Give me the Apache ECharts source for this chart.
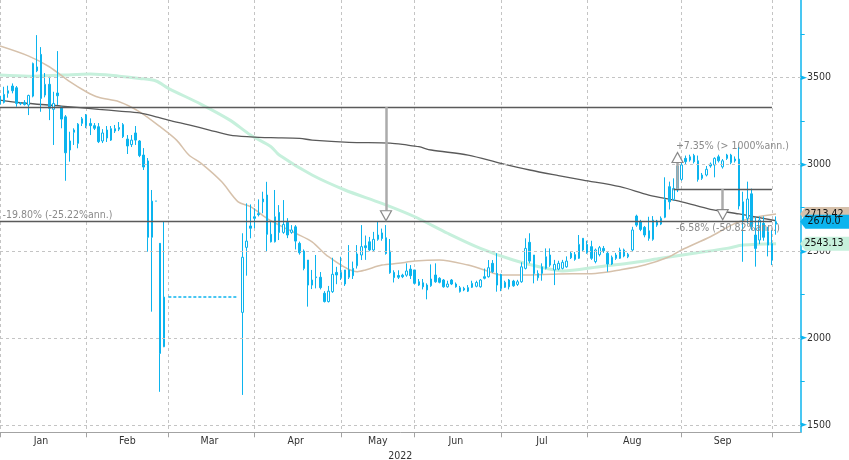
<!DOCTYPE html>
<html><head><meta charset="utf-8">
<script src="https://cdn.jsdelivr.net/npm/echarts@6/dist/echarts.min.js"></script>
<style>html,body{margin:0;padding:0;background:#fff}#c{width:849px;height:460px}</style>
</head><body><div id="c"></div>
<script>
// ---------- data ----------
const SLOT_COUNT = 196; // trading-day slots on the x axis
const monthStartSlots = [0, 21, 41, 62, 83, 101, 122, 143, 166, 188];
const monthNames = ['Jan', 'Feb', 'Mar', 'Apr', 'May', 'Jun', 'Jul', 'Aug', 'Sep'];
const monthLabelSlots = [10, 31, 51, 72, 92, 111, 132, 154, 176];
const yearLabel = '2022';
const yMin = 1458, yMax = 3945;
const yLabelValues = [1500, 2000, 2500, 3000, 3500];
const yMinorTickValues = [1750, 2250, 2750, 3250, 3750];

// [slot, open, close, low, high]
const ohlc = [
[0,3392,3346,3335,3404],[1,3356,3402,3350,3446],[2,3408,3423,3383,3452],[3,3450,3423,3408,3465],
[4,3440,3350,3331,3450],[5,3352,3348,3340,3358],[6,3356,3344,3338,3369],[7,3341,3396,3283,3400],
[8,3392,3580,3385,3585],[9,3560,3538,3530,3743],[10,3632,3379,3302,3674],[11,3398,3460,3385,3525],
[12,3460,3322,3254,3503],[13,3316,3350,3111,3417],[14,3410,3394,3341,3651],[15,3325,3260,3207,3335],
[16,3273,3066,2905,3283],[17,3134,3082,3015,3187],[18,3184,3197,3111,3207],[19,3120,3231,3092,3237],
[20,3235,3262,3220,3272],[21,3283,3222,3208,3289],[22,3235,3222,3168,3264],[23,3222,3207,3197,3237],
[24,3216,3130,3122,3237],[25,3134,3180,3122,3202],[26,3151,3197,3128,3220],[27,3139,3205,3134,3220],
[28,3191,3205,3180,3226],[29,3211,3202,3191,3243],[30,3228,3159,3151,3237],[31,3145,3105,3059,3168],
[32,3113,3139,3099,3168],[33,3180,3139,3111,3220],[34,3134,3050,3041,3139],[35,3053,2984,2967,3093],
[36,3019,2580,2497,3036],[37,2580,2788,2152,2852],[38,2788,2788,2788,2788],[39,2545,1912,1691,2547],
[40,1950,2236,1948,2673],
[59,2148,2465,1673,2603],[60,2522,2558,2359,2775],[61,2645,2632,2574,2769],[62,2698,2689,2632,2746],
[63,2716,2710,2700,2798],[64,2800,2784,2718,2842],[65,2823,2597,2501,2899],[66,2597,2554,2550,2668],
[67,2554,2698,2550,2852],[68,2723,2608,2564,2765],[69,2608,2654,2600,2794],[70,2666,2593,2575,2690],
[71,2608,2622,2600,2650],[72,2640,2558,2510,2650],[73,2545,2491,2480,2555],[74,2501,2401,2390,2510],
[75,2449,2305,2181,2449],[76,2305,2334,2282,2392],[77,2352,2348,2286,2478],[78,2350,2290,2280,2380],
[79,2258,2210,2205,2270],[80,2210,2270,2205,2300],[81,2267,2367,2260,2462],[82,2378,2363,2310,2410],
[83,2347,2378,2334,2468],[84,2392,2311,2300,2392],[85,2350,2392,2340,2535],[86,2401,2359,2340,2440],
[87,2416,2484,2400,2535],[88,2478,2526,2449,2650],[89,2531,2520,2450,2590],[90,2554,2507,2500,2582],
[91,2507,2568,2500,2611],[92,2568,2593,2560,2670],[93,2605,2573,2560,2630],[94,2577,2487,2480,2650],
[95,2501,2376,2370,2570],[96,2378,2348,2320,2390],[97,2360,2350,2340,2390],[98,2362,2353,2345,2370],
[99,2362,2386,2353,2430],[100,2397,2359,2340,2420],[101,2392,2315,2310,2392],[102,2324,2305,2300,2340],
[103,2318,2295,2280,2340],[104,2305,2277,2223,2315],[105,2301,2340,2295,2424],[106,2363,2324,2318,2430],
[107,2344,2321,2315,2350],[108,2334,2295,2290,2340],[109,2295,2311,2290,2330],[110,2334,2311,2305,2340],
[111,2311,2295,2290,2320],[112,2267,2290,2262,2300],[113,2286,2277,2270,2295],[114,2290,2270,2265,2305],
[115,2292,2315,2288,2330],[116,2298,2320,2292,2330],[117,2295,2334,2290,2340],[118,2353,2344,2338,2400],
[119,2353,2405,2348,2449],[120,2430,2382,2375,2449],[121,2372,2305,2267,2488],[122,2366,2286,2270,2370],
[123,2292,2321,2288,2330],[124,2334,2295,2280,2340],[125,2328,2301,2295,2335],[126,2309,2324,2300,2335],
[127,2324,2410,2318,2436],[128,2401,2516,2395,2574],[129,2551,2443,2430,2603],[130,2478,2372,2315,2478],
[131,2347,2372,2330,2390],[132,2372,2410,2330,2430],[133,2401,2468,2395,2516],[134,2478,2420,2410,2516],
[135,2392,2424,2305,2450],[136,2397,2430,2390,2445],[137,2401,2436,2395,2450],[138,2410,2443,2405,2470],
[139,2488,2462,2455,2500],[140,2480,2453,2445,2495],[141,2459,2539,2455,2593],[142,2574,2507,2500,2574],
[143,2539,2493,2485,2560],[144,2526,2459,2450,2560],[145,2440,2507,2430,2515],[146,2480,2520,2470,2530],
[147,2516,2502,2490,2530],[148,2488,2426,2382,2500],[149,2426,2465,2420,2475],[150,2478,2459,2450,2490],
[151,2459,2507,2455,2520],[152,2507,2472,2465,2515],[153,2468,2482,2460,2490],[154,2507,2622,2495,2640],
[155,2702,2650,2640,2710],[156,2669,2625,2615,2680],[157,2637,2593,2580,2645],[158,2617,2574,2560,2698],
[159,2568,2679,2560,2702],[160,2650,2673,2640,2680],[161,2656,2689,2650,2700],[162,2695,2798,2690,2925],
[163,2871,2784,2740,2900],[164,2798,2861,2790,2919],[165,2852,2990,2840,3030],[166,2913,2996,2905,3024],
[167,3034,3015,3000,3050],[168,3024,3043,3015,3055],[169,3050,3015,3005,3060],[170,3020,2913,2900,3050],
[171,2919,2938,2910,2950],[172,2938,2971,2930,2990],[173,3001,2990,2980,3010],[174,2996,3034,2925,3040],
[175,3043,3020,3010,3055],[176,2985,3020,2975,3030],[177,3053,3034,3025,3060],[178,3009,3053,3000,3060],
[179,3030,3020,3010,3045],[180,3030,2760,2740,3100],[181,2675,2784,2439,2842],[182,2689,2800,2660,2900],
[183,2830,2640,2620,2860],[184,2593,2516,2411,2698],[185,2564,2679,2540,2700],[186,2660,2580,2560,2700],
[187,2612,2535,2470,2640],[188,2449,2545,2420,2622],[189,2655,2670,2595,2700]
];

// moving averages: [slot, value]
const maDark = [[0,3369],[5,3354],[15,3335],[24,3316],[29,3306],[34,3296],[38,3273],[41,3254],[46,3226],
[51,3197],[56,3168],[61,3158],[66,3153],[73,3149],[76,3139],[85,3126],[95,3122],[99,3111],[102,3101],
[105,3082],[114,3053],[122,3005],[129,2967],[136,2935],[142,2909],[151,2871],[158,2823],[166,2784],
[173,2741],[180,2714],[189,2675]];
const maTan = [[0,3680],[7,3622],[12,3561],[17,3475],[21,3417],[24,3385],[29,3360],[34,3302],[39,3216],
[43,3139],[46,3053],[49,3005],[54,2899],[58,2784],[61,2756],[65,2689],[68,2650],[72,2603],[76,2554],
[80,2468],[87,2382],[89,2392],[93,2420],[97,2430],[101,2443],[107,2449],[114,2420],[118,2392],[122,2363],
[127,2363],[136,2369],[145,2372],[151,2392],[157,2420],[163,2468],[166,2507],[173,2583],[179,2660],
[184,2695],[189,2713.42]];
const maMint = [[0,3513],[7,3507],[15,3513],[22,3519],[29,3507],[34,3494],[38,3479],[41,3437],[49,3345],
[56,3254],[61,3168],[66,3101],[68,3053],[76,2938],[84,2852],[93,2775],[101,2698],[109,2603],[117,2516],
[125,2449],[133,2401],[137,2386],[146,2411],[153,2430],[161,2459],[169,2488],[177,2516],[181,2535],
[189,2543.13]];

const lastSlot = 189;
const lastClose = 2670.0, lastTan = 2713.42, lastMint = 2543.13;
const refHigh = 3329.2, swingLow = 2857.7, swingHigh = 3068;
const gapClose = 2236, gapFrom = 41, gapTo = 58;
const annText1 = '-19.80% (-25.22%ann.)';
const annText2 = '+7.35% (> 1000%ann.)';
const annText3 = '-6.58% (-50.82%ann.)';

// ---------- styling ----------
const FONT = "'DejaVu Sans Condensed', 'Liberation Sans', sans-serif";
const BLUE = '#0cb4ee';
const GRID = '#c4c4c4';
const TAN = '#d6c1ab';
const MINT = '#c6f0dc';
const DARK = '#5a5a5a';
const ANN = '#8a8a8a';
const TAG = 'path://M0,7L6,0L60,0L60,14L6,14Z';

const categories = Array.from({length: SLOT_COUNT}, (_, i) => String(i));
const candleData = new Array(SLOT_COUNT).fill('-');
ohlc.forEach(([s, o, c, l, h]) => { candleData[s] = [o, c, l, h]; });

const hLine = (x0, x1, v) => [{coord: [x0, v], lineStyle: {color: DARK, width: 1.3, type: 'solid'}}, {coord: [x1, v]}];
const vArrow = (x, v0, v1) => [{coord: [x, v0], lineStyle: {color: '#ababab', width: 2.5, type: 'solid'}}, {coord: [x, v1]}];
const tri = (x, v, rot) => ({coord: [x, v], symbol: 'triangle', symbolSize: [11, 10], symbolRotate: rot,
  itemStyle: {color: '#fff', borderColor: '#8a8a8a', borderWidth: 1.2}, label: {show: false}});
const txt = (x, v, t, dy) => ({coord: [x, v], symbol: 'rect', symbolSize: 1, itemStyle: {color: 'rgba(0,0,0,0)'},
  label: {show: true, position: 'right', distance: 2, offset: [0, dy], formatter: t, color: ANN, fontSize: 10.5, fontFamily: FONT}});
const tag = (v, color) => ({coord: [lastSlot, v], symbol: TAG, symbolSize: [54, 14], symbolOffset: [51, 0], symbolKeepAspect: false,
  itemStyle: {color: color}, label: {show: true, position: 'inside', offset: [-3, 0], formatter: v.toFixed(v === lastClose ? 1 : 2),
  color: '#111', fontSize: 10.5, fontFamily: FONT}});

const chart = echarts.init(document.getElementById('c'), null, {renderer: 'canvas'});
chart.setOption({
  animation: false,
  backgroundColor: '#ffffff',
  textStyle: {fontFamily: FONT},
  grid: {left: 0, right: 48.3, top: 0, bottom: 27.7, containLabel: false, outerBoundsMode: 'none'},
  xAxis: {
    type: 'category', data: categories, boundaryGap: false,
    axisLine: {onZero: false, lineStyle: {color: '#a3a3a3', width: 1}},
    axisTick: {show: true, length: 5, interval: (i) => monthStartSlots.includes(i), lineStyle: {color: '#a3a3a3'}},
    axisLabel: {interval: (i) => monthLabelSlots.includes(i),
      formatter: (v) => monthNames[monthLabelSlots.indexOf(Number(v))] || '',
      color: '#333', fontSize: 10.5, margin: 3, fontFamily: FONT},
    splitLine: {show: true, interval: (i) => monthStartSlots.includes(i), lineStyle: {color: GRID, type: [3, 3], width: 1}},
    name: yearLabel, nameLocation: 'middle', nameGap: 12,
    nameTextStyle: {color: '#333', fontSize: 10.5, fontFamily: FONT}
  },
  yAxis: {
    type: 'value', position: 'right', min: yMin, max: yMax,
    axisLine: {show: true, lineStyle: {color: BLUE, width: 1.5}},
    axisTick: {show: true, customValues: yMinorTickValues, length: 4, lineStyle: {color: BLUE, width: 1}},
    axisLabel: {customValues: yLabelValues, margin: 0, formatter: (v) => '{t|►}' + v,
      color: '#333', fontSize: 10.5, fontFamily: FONT, rich: {t: {color: BLUE, fontSize: 9}}},
    splitLine: {show: false}
  },
  series: [
    {name: 'grid', type: 'line', data: [], z: 1, silent: true,
      markLine: {silent: true, symbol: 'none', label: {show: false}, animation: false,
        lineStyle: {color: GRID, type: [3, 3], width: 1},
        data: yLabelValues.map(v => ({yAxis: v}))}},
    {name: 'MA100', type: 'line', data: maMint, showSymbol: false, smooth: 0.3, z: 2, silent: true,
      lineStyle: {color: MINT, width: 3}},
    {name: 'MA50', type: 'line', data: maTan, showSymbol: false, smooth: 0.3, z: 2, silent: true,
      lineStyle: {color: TAN, width: 1.5}},
    {name: 'MA200', type: 'line', data: maDark, showSymbol: false, smooth: 0.3, z: 2, silent: true,
      lineStyle: {color: DARK, width: 1.3}},
    {name: 'Price', type: 'candlestick', data: candleData, barWidth: 2, z: 3, clip: true,
      itemStyle: {color: '#ffffff', color0: BLUE, borderColor: BLUE, borderColor0: BLUE, borderWidth: 1}},
    {name: 'gap', type: 'line', data: [], z: 4, silent: true,
      markLine: {silent: true, symbol: 'none', label: {show: false}, animation: false,
        lineStyle: {color: BLUE, width: 1.5, type: [3, 2]},
        data: [[{coord: [gapFrom, gapClose]}, {coord: [gapTo, gapClose]}]]}},
    {name: 'annot', type: 'line', data: [], z: 4, silent: true,
      markLine: {silent: true, symbol: 'none', label: {show: false}, animation: false,
        data: [
          hLine(0, 188, refHigh), hLine(0, 188, lastClose), hLine(164, 188, swingLow),
          vArrow(94, refHigh, 2733), vArrow(165, swingLow, 3008), vArrow(176, swingLow, 2739)
        ]},
      markPoint: {silent: true, animation: false,
        data: [
          tri(94, 2704, 180), tri(165, 3039, 0), tri(176, 2710, 180),
          txt(0, lastClose, annText1, -6.6), txt(164, swingHigh, annText2, -6.4), txt(164, lastClose, annText3, 7),
          tag(lastTan, TAN), tag(lastMint, MINT), tag(lastClose, BLUE)
        ]}}
  ]
});
</script></body></html>
